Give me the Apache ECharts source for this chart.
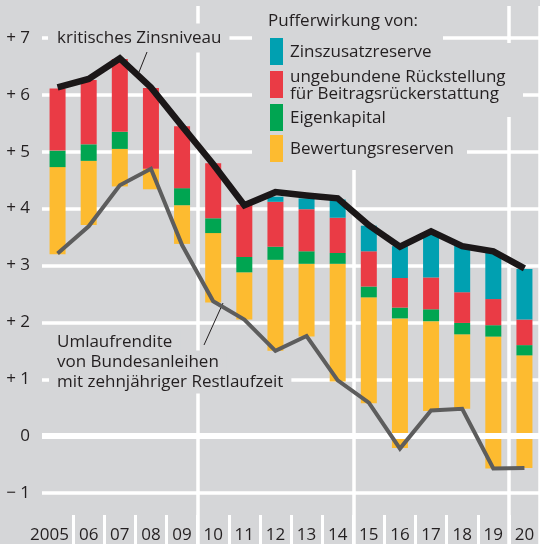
<!DOCTYPE html>
<html lang="de">
<head>
    <meta charset="utf-8">
    <title>Pufferwirkung</title>
    <script src="https://cdn.jsdelivr.net/npm/echarts@6/dist/echarts.min.js"></script>
    <style>
        html, body { margin: 0; padding: 0; background: #d5d6d8; }
    </style>
</head>
<body>
<div id="main" style="width: 540px;height:544px;"></div>

<script type="text/javascript">
    var years = ['2005', '06', '07', '08', '09', '10', '11', '12', '13', '14', '15', '16', '17', '18', '19', '20'];

    // Untergrenze der Säulen
    var basis = [3.20, 3.71, 4.39, 4.34, 3.38, 2.35, 2.05, 1.50, 1.75, 0.96, 0.58, -0.21, 0.44, 0.48, -0.57, -0.56];
    var bewertungsreserven = [1.53, 1.13, 0.66, 0.36, 0.68, 1.22, 0.83, 1.60, 1.28, 2.07, 1.86, 2.28, 1.58, 1.31, 2.32, 1.98];
    var eigenkapital = [0.29, 0.29, 0.30, 0, 0.30, 0.26, 0.27, 0.23, 0.22, 0.19, 0.19, 0.19, 0.21, 0.20, 0.20, 0.18];
    var rueckstellung = [1.09, 1.13, 1.28, 1.42, 1.09, 0.97, 0.92, 0.79, 0.74, 0.62, 0.62, 0.52, 0.56, 0.54, 0.46, 0.45];
    var zinszusatzreserve = [0, 0, 0, 0, 0, 0, 0, 0.09, 0.19, 0.32, 0.45, 0.56, 0.76, 0.83, 0.81, 0.89];

    var kritischesZinsniveau = [6.13, 6.28, 6.64, 6.13, 5.45, 4.78, 4.06, 4.29, 4.23, 4.18, 3.71, 3.33, 3.60, 3.34, 3.25, 2.95];
    var umlaufrendite = [3.21, 3.69, 4.41, 4.70, 3.36, 2.37, 2.05, 1.50, 1.76, 0.98, 0.59, -0.22, 0.45, 0.48, -0.57, -0.56];

    var BG = '#d5d6d8';
    var TXT = '#231f20';
    var FONT = '"Open Sans", sans-serif';
    var C_ZZR = '#00a0b1', C_RFB = '#ea3b45', C_EK = '#00a551', C_BWR = '#fdbb30';
    var RFB = 'ungebundene Rückstellung\nfür Beitragsrückerstattung';

    var myChart = echarts.init(document.getElementById('main'));

    function bar(name, data, color) {
        return {
            name: name,
            type: 'bar',
            stack: 'puffer',
            stackStrategy: 'all',
            barWidth: 16,
            data: data,
            itemStyle: { color: color },
            emphasis: { disabled: true }
        };
    }

    function note(text, x, y, pad, bg) {
        return {
            type: 'text', x: x, y: y, z: 1,
            style: {
                text: text, font: '17px ' + FONT, fill: TXT, lineHeight: 17,
                verticalAlign: 'middle', backgroundColor: bg ? BG : null, padding: pad
            }
        };
    }

    function box(x, y, w, h, color) {
        return { type: 'rect', z: 1, shape: { x: x, y: y, width: w, height: h }, style: { fill: color || BG } };
    }

    var option = {
        backgroundColor: BG,
        animation: false,
        textStyle: { fontFamily: FONT },
        grid: [
            { left: 42, right: 0, top: 38, bottom: 48 },
            { left: 42, right: 0, top: 6, bottom: 0 }
        ],
        xAxis: [
            {
                gridIndex: 0,
                type: 'category',
                data: years,
                offset: 19,
                axisLine: { show: false },
                axisTick: { show: false },
                axisLabel: {
                    interval: 0,
                    margin: 15, fontSize: 17, color: TXT,
                    formatter: function (v, i) { return i === 0 ? '{f|' + v + '}' : v; },
                    rich: { f: { fontSize: 17, color: TXT, fontFamily: FONT, padding: [0, 16, 0, 0] } }
                },
                splitLine: { show: false }
            },
            {
                // senkrechte Linien: Fünfjahresabstände über die volle Höhe, Trennstriche unter der Achse
                gridIndex: 1,
                type: 'category',
                data: years,
                axisLine: { show: false },
                axisTick: {
                    show: true, inside: true, length: 29,
                    interval: function (i) { return i > 0; },
                    lineStyle: { color: '#fff', width: 3 }
                },
                axisLabel: { show: false },
                splitLine: {
                    show: true,
                    interval: function (i) { return i > 0 && i % 5 === 0; },
                    lineStyle: { color: '#fff', width: 3.5 }
                }
            }
        ],
        yAxis: [
            {
                gridIndex: 0,
                type: 'value',
                min: -1,
                max: 7,
                interval: 1,
                axisLine: { show: false },
                axisTick: { show: false },
                axisLabel: {
                    margin: 12, fontSize: 17, color: TXT,
                    formatter: function (v) {
                        if (v > 0) return '+ ' + v;
                        if (v < 0) return '\u2212 ' + Math.abs(v);
                        return '0';
                    }
                },
                splitLine: { lineStyle: { color: '#fff', width: 3.5 } }
            },
            { gridIndex: 1, type: 'value', show: false }
        ],
        series: [
            {
                name: 'basis',
                type: 'bar',
                stack: 'puffer',
                stackStrategy: 'all',
                barWidth: 16,
                silent: true,
                data: basis,
                itemStyle: { color: 'rgba(0,0,0,0)' },
                markLine: {
                    z: 3,
                    silent: true,
                    symbol: 'none',
                    label: { show: false },
                    lineStyle: { color: '#fff', width: 6, type: 'solid' },
                    data: [{ yAxis: 0 }]
                }
            },
            bar('Bewertungsreserven', bewertungsreserven, C_BWR),
            bar('Eigenkapital', eigenkapital, C_EK),
            bar(RFB, rueckstellung, C_RFB),
            bar('Zinszusatzreserve', zinszusatzreserve, C_ZZR),
            {
                name: 'Umlaufrendite',
                type: 'line',
                z: 4,
                data: umlaufrendite,
                symbol: 'none',
                lineStyle: { color: '#5d5d5d', width: 4, join: 'miter' }
            },
            {
                name: 'kritisches Zinsniveau',
                type: 'line',
                z: 5,
                data: kritischesZinsniveau,
                symbol: 'none',
                lineStyle: { color: '#1b1718', width: 6.5, join: 'miter' }
            }
        ],
        graphic: [
            // Flächen hinter der Legende
            box(252, 6, 191, 164),
            box(252, 43, 271, 74),
            box(252, 117, 215, 53),
            note('Pufferwirkung von:', 268, 21, 0, false),
            box(270, 38, 13, 27, C_ZZR),
            box(270, 71, 13, 27, C_RFB),
            box(270, 104, 13, 27, C_EK),
            box(270, 135, 13, 27, C_BWR),
            note('Zinszusatzreserve', 290, 52, 0, false),
            note(RFB, 290, 85.5, 0, false),
            note('Eigenkapital', 290, 118, 0, false),
            note('Bewertungsreserven', 290, 149, 0, false),
            // Beschriftungen im Diagramm
            note('kritisches Zinsniveau', 48, 38, [6, 8, 6, 9], true),
            note('Umlaufrendite', 49, 342, [3, 8, 3, 8], true),
            note('von Bundesanleihen', 49, 362, [3, 8, 3, 8], true),
            note('mit zehnjähriger Restlaufzeit', 49, 382, [3, 8, 3, 8], true),
            { type: 'line', z: 1, shape: { x1: 147, y1: 52, x2: 139, y2: 72 }, style: { stroke: TXT, lineWidth: 1 } },
            { type: 'line', z: 1, shape: { x1: 223, y1: 303, x2: 204, y2: 345 }, style: { stroke: TXT, lineWidth: 1 } }
        ]
    };

    option && myChart.setOption(option);
</script>
</body>
</html>
